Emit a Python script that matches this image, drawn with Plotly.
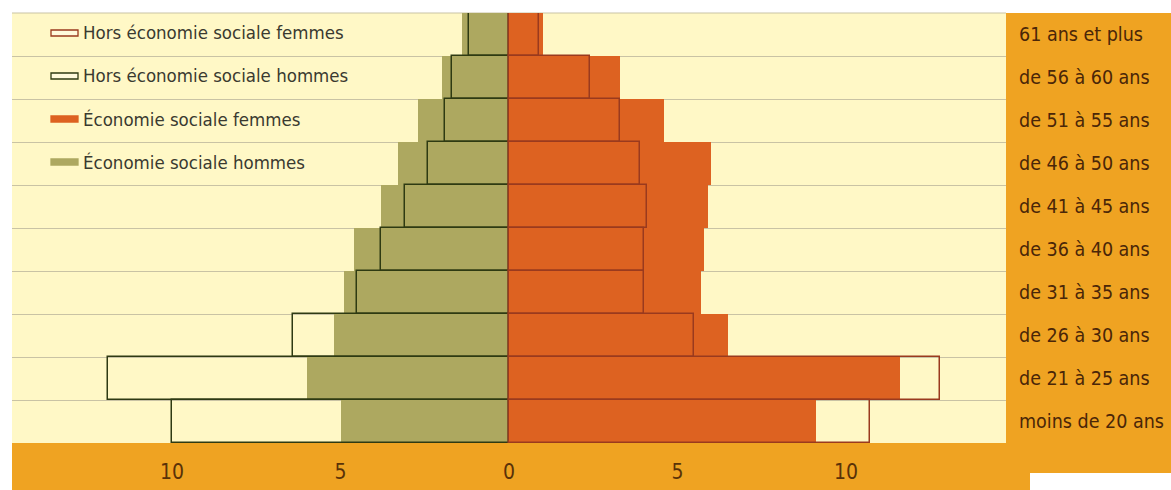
import plotly.graph_objects as go

# Age groups, top to bottom
categories = ["61 ans et plus", "de 56 à 60 ans", "de 51 à 55 ans", "de 46 à 50 ans",
              "de 41 à 45 ans", "de 36 à 40 ans", "de 31 à 35 ans", "de 26 à 30 ans",
              "de 21 à 25 ans", "moins de 20 ans"]

# Share of employees per age group (%)
es_hommes = [1.4, 2.0, 2.7, 3.3, 3.8, 4.6, 4.9, 5.2, 6.0, 5.0]
es_femmes = [1.0, 3.3, 4.6, 6.0, 5.9, 5.8, 5.7, 6.5, 11.6, 9.1]
hors_hommes = [1.2, 1.7, 1.9, 2.4, 3.1, 3.8, 4.5, 6.4, 11.9, 10.0]
hors_femmes = [0.9, 2.4, 3.3, 3.9, 4.1, 4.0, 4.0, 5.5, 12.8, 10.7]

tick_vals = [-10, -5, 0, 5, 10]
tick_text = ["10", "5", "0", "5", "10"]

series_names = ["Hors économie sociale femmes", "Hors économie sociale hommes",
                "Économie sociale femmes", "Économie sociale hommes"]

ORANGE = "#DD6221"
OLIVE = "#ADA860"
BG = "#FFF8C6"
BAND = "#EFA322"
LINE_H = "#2E3A12"
LINE_F = "#9A3A1E"
FONT = "Liberation Sans Narrow, Arial Narrow, DejaVu Sans Condensed, sans-serif"

pos = list(range(len(categories)))

fig = go.Figure()
fig.add_trace(go.Bar(y=pos, x=[-v for v in es_hommes], orientation="h", width=1,
                     marker=dict(color=OLIVE, line=dict(width=0)), name=series_names[3]))
fig.add_trace(go.Bar(y=pos, x=es_femmes, orientation="h", width=1,
                     marker=dict(color=ORANGE, line=dict(width=0)), name=series_names[2]))
fig.add_trace(go.Bar(y=pos, x=[-v for v in hors_hommes], orientation="h", width=1,
                     marker=dict(color="rgba(0,0,0,0)", line=dict(color=LINE_H, width=1.5)),
                     name=series_names[1]))
fig.add_trace(go.Bar(y=pos, x=hors_femmes, orientation="h", width=1,
                     marker=dict(color="rgba(0,0,0,0)", line=dict(color=LINE_F, width=1.5)),
                     name=series_names[0]))

# plot area in pixels: x 12..1006, y 13..443
L, T, W, H = 12, 13, 994, 430


def px(x):
    return (x - L) / W


def py(y):
    return (T + H - y) / H


shapes = [
    # orange panel for age labels on the right
    dict(type="rect", xref="paper", yref="paper", x0=1, x1=px(1175), y0=py(473), y1=1,
         fillcolor=BAND, line=dict(width=0), layer="below"),
    # orange band under the plot for the value axis
    dict(type="rect", xref="paper", yref="paper", x0=0, x1=px(1030), y0=py(495), y1=0,
         fillcolor=BAND, line=dict(width=0), layer="below"),
    # legend box hiding the grid lines
    dict(type="rect", xref="paper", yref="paper", x0=px(33), x1=px(360), y0=py(181), y1=py(14),
         fillcolor=BG, line=dict(width=0), layer="between"),
    # thin rule along the top of the plot
    dict(type="line", xref="paper", yref="paper", x0=0, x1=1, y0=1, y1=1,
         line=dict(color="#C9C3A4", width=1), layer="below"),
]

annotations = []
legend_styles = [
    dict(fill="rgba(255,250,220,1)", line=LINE_F),
    dict(fill="rgba(255,250,220,1)", line=LINE_H),
    dict(fill=ORANGE, line=ORANGE),
    dict(fill=OLIVE, line=OLIVE),
]
for i, (name, st) in enumerate(zip(series_names, legend_styles)):
    yc = 33 + i * 43
    shapes.append(dict(type="rect", xref="paper", yref="paper",
                       x0=px(51), x1=px(78), y0=py(yc + 3), y1=py(yc - 3),
                       fillcolor=st["fill"], line=dict(color=st["line"], width=1.3),
                       layer="above"))
    annotations.append(dict(xref="paper", yref="paper", x=px(81), y=py(yc),
                            text=name, showarrow=False, xanchor="left", yanchor="middle",
                            font=dict(family=FONT, size=18.5, color="#3a3a30")))

fig.update_layout(
    barmode="overlay",
    width=1171, height=490,
    margin=dict(l=L, r=1171 - L - W, t=T, b=490 - T - H, autoexpand=False),
    paper_bgcolor="white",
    plot_bgcolor=BG,
    showlegend=False,
    shapes=shapes,
    annotations=annotations,
    xaxis=dict(range=[-14.75, 14.75], tickvals=tick_vals, ticktext=tick_text,
               showgrid=False, zeroline=False, showline=False, ticks="",
               tickfont=dict(family=FONT, size=21, color="#5a3208"),
               ticklabelstandoff=14, fixedrange=True, automargin=False),
    yaxis=dict(range=[9.5, -0.5], tickvals=pos, ticktext=categories, side="right",
               showgrid=False, zeroline=False, showline=False, ticks="",
               ticklabelstandoff=12, automargin=False,
               tickfont=dict(family=FONT, size=19.5, color="#4a2608"),
               minor=dict(tickvals=[p - 0.5 for p in pos] + [len(pos) - 0.5],
                          showgrid=True, gridcolor="#C9C3A4", gridwidth=1, ticks=""),
               fixedrange=True),
    bargap=0,
)

fig.write_html("out.html")
